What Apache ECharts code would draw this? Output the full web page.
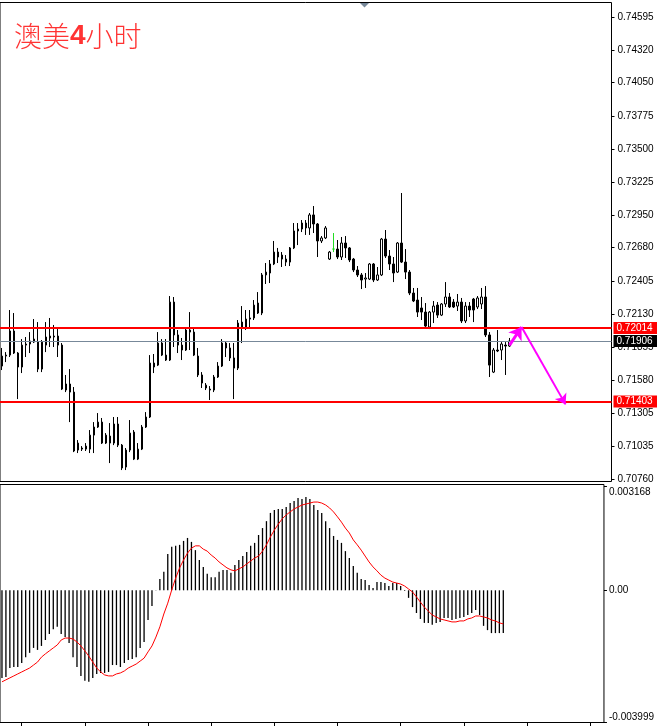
<!DOCTYPE html>
<html>
<head>
<meta charset="utf-8">
<title>澳美4小时</title>
<script src="https://cdn.jsdelivr.net/npm/echarts@6/dist/echarts.min.js"></script>
<style>
  html, body { margin: 0; padding: 0; background: #fff; }
  #chart { width: 657px; height: 726px; }
</style>
</head>
<body>
<div id="chart"></div>
<script>
// 4h candles
var opens = [
  0.71698, 0.71781, 0.71789, 0.71989, 0.71806, 0.71690, 0.71872, 0.71881, 0.71922, 0.71897,
  0.71673, 0.71872, 0.71947, 0.71939, 0.71947, 0.71872, 0.71499, 0.71549, 0.71482, 0.71001,
  0.71018, 0.71009, 0.71009, 0.71125, 0.71192, 0.71233, 0.71059, 0.71117, 0.71059, 0.71217,
  0.71042, 0.70860, 0.71001, 0.71150, 0.70926, 0.71009, 0.71192, 0.71275, 0.71723, 0.71706,
  0.71889, 0.71789, 0.71748, 0.72229, 0.71956, 0.71872, 0.71831, 0.71997, 0.71980, 0.71781,
  0.71624, 0.71516, 0.71507, 0.71499, 0.71607, 0.71698, 0.71889, 0.71848, 0.71765, 0.71681,
  0.72063, 0.72022, 0.72088, 0.72097, 0.72221, 0.72138, 0.72454, 0.72470, 0.72545, 0.72644,
  0.72619, 0.72586, 0.72561, 0.72678, 0.72819, 0.72835, 0.72885, 0.72844, 0.72952, 0.72877,
  0.72736, 0.72761, 0.72586, 0.72669, 0.72669, 0.72603, 0.72719, 0.72678, 0.72586, 0.72495,
  0.72454, 0.72420, 0.72420, 0.72545, 0.72412, 0.72454, 0.72752, 0.72611, 0.72545, 0.72478,
  0.72719, 0.72561, 0.72478, 0.72304, 0.72246, 0.72180, 0.72146, 0.72022, 0.72146, 0.72204,
  0.72121, 0.72213, 0.72271, 0.72229, 0.72196, 0.72229, 0.72072, 0.72196, 0.72254, 0.72188,
  0.72213, 0.72271, 0.71956, 0.71648, 0.71831, 0.71831, 0.71872, 0.71864
];
var closes = [
  0.71781, 0.71789, 0.71989, 0.71806, 0.71690, 0.71872, 0.71881, 0.71906, 0.71897, 0.71673,
  0.71897, 0.71939, 0.71931, 0.71947, 0.71872, 0.71507, 0.71549, 0.71482, 0.70993, 0.71059,
  0.71009, 0.71034, 0.71125, 0.71192, 0.71233, 0.71059, 0.71125, 0.71059, 0.71217, 0.71042,
  0.70852, 0.71001, 0.71142, 0.70926, 0.71009, 0.71192, 0.71275, 0.71723, 0.71690, 0.71889,
  0.71789, 0.71748, 0.72229, 0.71956, 0.71872, 0.71831, 0.71997, 0.71980, 0.71789, 0.71624,
  0.71557, 0.71540, 0.71499, 0.71607, 0.71698, 0.71889, 0.71848, 0.71765, 0.71681, 0.72055,
  0.72022, 0.72088, 0.72097, 0.72204, 0.72138, 0.72454, 0.72478, 0.72545, 0.72644, 0.72603,
  0.72586, 0.72561, 0.72678, 0.72819, 0.72835, 0.72885, 0.72844, 0.72952, 0.72877, 0.72736,
  0.72761, 0.72844, 0.72644, 0.72669, 0.72603, 0.72719, 0.72678, 0.72578, 0.72495, 0.72454,
  0.72412, 0.72429, 0.72545, 0.72412, 0.72454, 0.72752, 0.72611, 0.72545, 0.72470, 0.72719,
  0.72561, 0.72478, 0.72304, 0.72238, 0.72146, 0.72146, 0.72030, 0.72146, 0.72196, 0.72121,
  0.72213, 0.72271, 0.72188, 0.72188, 0.72229, 0.72072, 0.72196, 0.72163, 0.72163, 0.72263,
  0.72271, 0.71956, 0.71706, 0.71831, 0.71823, 0.71881, 0.71864, 0.71906
];
var lows = [
  0.71665, 0.71731, 0.71773, 0.71798, 0.71424, 0.71640, 0.71773, 0.71806, 0.71889, 0.71648,
  0.71648, 0.71814, 0.71856, 0.71856, 0.71773, 0.71499, 0.71482, 0.71233, 0.70984, 0.70976,
  0.70993, 0.70993, 0.70976, 0.70976, 0.71184, 0.71051, 0.71051, 0.70893, 0.71042, 0.71026,
  0.70835, 0.70835, 0.70984, 0.70918, 0.70918, 0.71001, 0.71184, 0.71267, 0.71640, 0.71698,
  0.71781, 0.71740, 0.71740, 0.71856, 0.71806, 0.71748, 0.71823, 0.71831, 0.71781, 0.71607,
  0.71516, 0.71499, 0.71416, 0.71482, 0.71599, 0.71690, 0.71773, 0.71740, 0.71424, 0.71665,
  0.71889, 0.71997, 0.72022, 0.72080, 0.72130, 0.72121, 0.72379, 0.72387, 0.72536, 0.72553,
  0.72520, 0.72528, 0.72528, 0.72669, 0.72702, 0.72810, 0.72786, 0.72786, 0.72802, 0.72603,
  0.72719, 0.72752, 0.72578, 0.72644, 0.72586, 0.72578, 0.72595, 0.72561, 0.72478, 0.72437,
  0.72337, 0.72346, 0.72412, 0.72395, 0.72404, 0.72445, 0.72595, 0.72495, 0.72395, 0.72470,
  0.72553, 0.72420, 0.72287, 0.72229, 0.72105, 0.72080, 0.72022, 0.72005, 0.72055, 0.72097,
  0.72113, 0.72188, 0.72180, 0.72180, 0.72155, 0.72055, 0.72055, 0.72105, 0.72063, 0.72171,
  0.72171, 0.71939, 0.71607, 0.71640, 0.71814, 0.71748, 0.71624, 0.71856
];
var highs = [
  0.71848, 0.71814, 0.72163, 0.72138, 0.71814, 0.71922, 0.71939, 0.71980, 0.72088, 0.72063,
  0.71914, 0.72063, 0.72097, 0.72039, 0.72005, 0.71889, 0.71624, 0.71673, 0.71524, 0.71084,
  0.71034, 0.71059, 0.71167, 0.71233, 0.71308, 0.71267, 0.71142, 0.71225, 0.71275, 0.71275,
  0.71051, 0.71018, 0.71250, 0.71167, 0.71059, 0.71209, 0.71316, 0.71789, 0.71798, 0.71980,
  0.71922, 0.71922, 0.72279, 0.72271, 0.71997, 0.71931, 0.72014, 0.72146, 0.72022, 0.71848,
  0.71648, 0.71557, 0.71532, 0.71624, 0.71731, 0.71922, 0.71906, 0.71889, 0.71889, 0.72080,
  0.72196, 0.72163, 0.72163, 0.72246, 0.72312, 0.72470, 0.72553, 0.72578, 0.72736, 0.72678,
  0.72644, 0.72619, 0.72686, 0.72885, 0.72885, 0.72910, 0.72910, 0.72968, 0.73026, 0.72885,
  0.72777, 0.72860, 0.72653, 0.72802, 0.72744, 0.72769, 0.72777, 0.72686, 0.72595, 0.72528,
  0.72470, 0.72470, 0.72553, 0.72553, 0.72520, 0.72761, 0.72827, 0.72661, 0.72603, 0.72727,
  0.73134, 0.72669, 0.72495, 0.72346, 0.72346, 0.72271, 0.72221, 0.72155, 0.72238, 0.72229,
  0.72221, 0.72395, 0.72304, 0.72254, 0.72296, 0.72263, 0.72229, 0.72229, 0.72263, 0.72279,
  0.72346, 0.72362, 0.71980, 0.71848, 0.71997, 0.71897, 0.71897, 0.71931
];

// MACD window: histogram (main) and signal line
var macdHist = [
  -0.00266, -0.00263, -0.00236, -0.00233, -0.00233, -0.00221, -0.00203, -0.00190, -0.00175, -0.00181,
  -0.00169, -0.00151, -0.00133, -0.00118, -0.00111, -0.00133, -0.00142, -0.00160, -0.00203, -0.00233,
  -0.00260, -0.00275, -0.00278, -0.00266, -0.00254, -0.00251, -0.00251, -0.00248, -0.00227, -0.00227,
  -0.00233, -0.00221, -0.00212, -0.00209, -0.00203, -0.00175, -0.00157, -0.00090, -0.00048, 0.00001,
  0.00034, 0.00056, 0.00110, 0.00132, 0.00135, 0.00138, 0.00150, 0.00159, 0.00147, 0.00122,
  0.00092, 0.00071, 0.00050, 0.00040, 0.00040, 0.00056, 0.00062, 0.00062, 0.00053, 0.00077,
  0.00092, 0.00104, 0.00116, 0.00135, 0.00144, 0.00168, 0.00189, 0.00210, 0.00235, 0.00244,
  0.00247, 0.00247, 0.00253, 0.00265, 0.00271, 0.00280, 0.00277, 0.00283, 0.00277, 0.00259,
  0.00244, 0.00235, 0.00210, 0.00189, 0.00165, 0.00153, 0.00144, 0.00119, 0.00098, 0.00074,
  0.00053, 0.00034, 0.00031, 0.00016, 0.00007, 0.00025, 0.00025, 0.00022, 0.00013, 0.00022,
  0.00022, 0.00013, -0.00002, -0.00023, -0.00051, -0.00069, -0.00087, -0.00099, -0.00099, -0.00105,
  -0.00099, -0.00096, -0.00084, -0.00084, -0.00090, -0.00087, -0.00084, -0.00081, -0.00075, -0.00069,
  -0.00060, -0.00075, -0.00108, -0.00121, -0.00130, -0.00130, -0.00130, -0.00130
];
var macdSignal = [
  -0.00278, -0.00272, -0.00266, -0.00260, -0.00254, -0.00248, -0.00242, -0.00236, -0.00227, -0.00218,
  -0.00203, -0.00193, -0.00184, -0.00175, -0.00166, -0.00151, -0.00145, -0.00145, -0.00148, -0.00157,
  -0.00169, -0.00184, -0.00200, -0.00218, -0.00236, -0.00248, -0.00257, -0.00260, -0.00260, -0.00254,
  -0.00251, -0.00245, -0.00236, -0.00230, -0.00224, -0.00215, -0.00206, -0.00187, -0.00169, -0.00142,
  -0.00111, -0.00072, -0.00039, 0.00001, 0.00037, 0.00068, 0.00092, 0.00113, 0.00128, 0.00135,
  0.00135, 0.00125, 0.00119, 0.00107, 0.00098, 0.00086, 0.00077, 0.00068, 0.00062, 0.00059,
  0.00065, 0.00071, 0.00080, 0.00089, 0.00098, 0.00104, 0.00119, 0.00138, 0.00162, 0.00183,
  0.00201, 0.00217, 0.00229, 0.00238, 0.00247, 0.00253, 0.00259, 0.00262, 0.00265, 0.00268,
  0.00268, 0.00265, 0.00259, 0.00250, 0.00238, 0.00223, 0.00207, 0.00189, 0.00174, 0.00153,
  0.00138, 0.00122, 0.00104, 0.00086, 0.00071, 0.00059, 0.00046, 0.00037, 0.00031, 0.00025,
  0.00022, 0.00019, 0.00013, 0.00004, -0.00005, -0.00020, -0.00036, -0.00051, -0.00063, -0.00075,
  -0.00081, -0.00087, -0.00090, -0.00093, -0.00096, -0.00096, -0.00093, -0.00093, -0.00087, -0.00084,
  -0.00078, -0.00078, -0.00081, -0.00084, -0.00090, -0.00093, -0.00099, -0.00102
];

var priceTicks = [0.74595, 0.74320, 0.74050, 0.73775, 0.73500, 0.73225, 0.72950, 0.72680,
                  0.72405, 0.72130, 0.71855, 0.71580, 0.71305, 0.71035, 0.70760];
var macdTicks = [0.003168, 0, -0.003999];
var macdTickLabels = ['0.003168', '0.00', '-0.003999'];

var resistance = 0.72014;
var support = 0.71403;
var bidPrice = 0.71906;
// hand drawn arrows: [bar index, price]
var arrowUp = [[127, 0.71872], [130, 0.72022]];
var arrowDown = [[130, 0.72022], [141, 0.71380]];

var slotCount = 153; // bars + empty chart-shift space on the right
var categories = [];
for (var i = 0; i < slotCount; i++) categories.push(String(i));

var candleData = opens.map(function (o, i) {
  var item = { value: [o, closes[i], lows[i], highs[i]] };
  if (o === closes[i]) {
    // MT4 paints doji bars in the line-chart colour
    item.itemStyle = { color: '#22dd22', color0: '#22dd22', borderColor: '#22dd22', borderColor0: '#22dd22' };
  }
  return item;
});

var labelFont = '"Liberation Sans", Arial, sans-serif';

function priceTag(bg) {
  return {
    show: true, position: 'end', distance: 2,
    formatter: function (p) { return p.value.toFixed(5); },
    color: '#fff', backgroundColor: bg,
    fontFamily: labelFont, fontSize: 10, lineHeight: 11,
    padding: [1, 6, 0, 3]
  };
}

var chart = echarts.init(document.getElementById('chart'));
chart.setOption({
  animation: false,
  backgroundColor: '#fff',
  title: {
    text: '{a|澳美}{b|4}{a|小时}',
    left: 9, top: 17,
    textStyle: {
      rich: {
        a: { fontFamily: '"Noto Sans CJK SC"', fontWeight: 300, fontSize: 28, color: '#ff3333' },
        b: { fontFamily: labelFont, fontWeight: 'bold', fontSize: 28, color: '#ff3333' }
      }
    }
  },
  graphic: [{
    type: 'polygon',
    shape: { points: [[360, 3], [369, 3], [364.5, 7.5]] },
    style: { fill: '#778899' }
  }],
  grid: [
    { left: -0.5, right: 45.5, top: 2.5, height: 479, show: true, borderColor: '#000', borderWidth: 1, backgroundColor: 'transparent' },
    { left: -0.5, right: 45.5, top: 484.5, height: 238, show: true, borderColor: '#000', borderWidth: 1, backgroundColor: 'transparent' }
  ],
  xAxis: [
    { gridIndex: 0, type: 'category', data: categories, boundaryGap: true,
      axisLine: { show: false }, axisTick: { show: false }, axisLabel: { show: false }, splitLine: { show: false } },
    { gridIndex: 1, type: 'category', data: categories, boundaryGap: true,
      axisLine: { show: true, onZero: false, lineStyle: { color: '#000', width: 1 } },
      axisTick: { show: true, alignWithLabel: true, length: 4, lineStyle: { color: '#000' },
        interval: function (idx) { return idx % 16 === 5; } },
      axisLabel: { show: false }, splitLine: { show: false } }
  ],
  yAxis: [
    { gridIndex: 0, type: 'value', position: 'right', min: 0.70740, max: 0.74715,
      splitLine: { show: false }, axisLine: { show: false },
      axisTick: { show: true, length: 3, lineStyle: { color: '#000' }, customValues: priceTicks },
      axisLabel: { customValues: priceTicks, margin: 6, color: '#000', fontFamily: labelFont, fontSize: 10,
        formatter: function (v) { return v.toFixed(5); } } },
    { gridIndex: 1, type: 'value', position: 'right', min: -0.004015, max: 0.003213,
      splitLine: { show: false }, axisLine: { show: false },
      axisTick: { show: true, length: 3, lineStyle: { color: '#000' }, customValues: macdTicks },
      axisLabel: { customValues: macdTicks, margin: 5, color: '#000', fontFamily: labelFont, fontSize: 10,
        formatter: function (v) {
          var k = macdTicks.indexOf(v);
          var s = k >= 0 ? macdTickLabels[k] : String(v);
          if (v > 0) return '{top|' + s + '}';
          if (v < 0) return '{bot|' + s + '}';
          return s;
        },
        rich: {
          top: { padding: [12, 0, 0, 0], fontFamily: labelFont, fontSize: 10, color: '#000' },
          bot: { padding: [0, 0, 10, 0], fontFamily: labelFont, fontSize: 10, color: '#000' }
        } } }
  ],
  series: [
    {
      name: 'AUDUSD', type: 'candlestick', xAxisIndex: 0, yAxisIndex: 0,
      data: candleData, barWidth: 2,
      itemStyle: { color: '#fff', color0: '#000', borderColor: '#000', borderColor0: '#000', borderWidth: 1 },
      markLine: {
        silent: true, animation: false, symbol: ['none', 'none'], precision: 5,
        data: [
          { yAxis: resistance, lineStyle: { color: '#ff0000', width: 2, type: 'solid' }, label: priceTag('#ff0000') },
          { yAxis: bidPrice, lineStyle: { color: '#778899', width: 1, type: 'solid' }, label: priceTag('#000') },
          { yAxis: support, lineStyle: { color: '#ff0000', width: 2, type: 'solid' }, label: priceTag('#ff0000') },
          [
            { coord: arrowUp[0], symbol: 'none', lineStyle: { color: '#ff00ff', width: 3, type: 'solid' }, label: { show: false } },
            { coord: arrowUp[1], symbol: 'arrow', symbolSize: 12 }
          ],
          [
            { coord: arrowDown[0], symbol: 'none', lineStyle: { color: '#ff00ff', width: 2, type: 'solid' }, label: { show: false } },
            { coord: arrowDown[1], symbol: 'arrow', symbolSize: 10 }
          ]
        ]
      }
    },
    {
      name: 'MACD', type: 'bar', xAxisIndex: 1, yAxisIndex: 1,
      data: macdHist, barWidth: 1.3, itemStyle: { color: '#000' }
    },
    {
      name: 'Signal', type: 'line', xAxisIndex: 1, yAxisIndex: 1,
      data: macdSignal, showSymbol: false, symbol: 'none',
      lineStyle: { color: '#ff0000', width: 1 }
    }
  ]
});
</script>
</body>
</html>
